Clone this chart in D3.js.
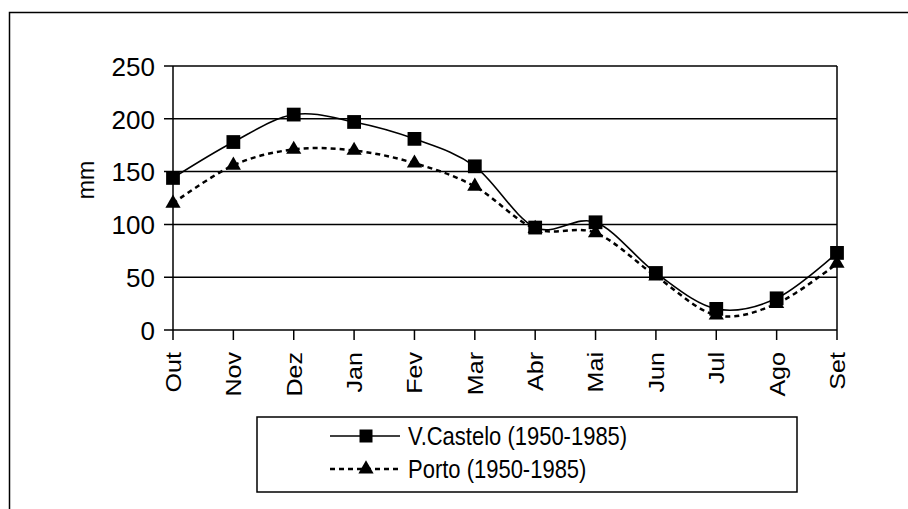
<!DOCTYPE html>
<html>
<head>
<meta charset="utf-8">
<script src="https://cdn.jsdelivr.net/npm/d3@7"></script>
<style>
  body { margin: 0; background: #fff; }
  text { font-family: "Liberation Sans", Arial, sans-serif; fill: #000; }
</style>
</head>
<body>
<script>
var months = ["Out", "Nov", "Dez", "Jan", "Fev", "Mar", "Abr", "Mai", "Jun", "Jul", "Ago", "Set"];
var vcastelo = [144, 178, 204, 197, 181, 155, 97, 102, 54, 20, 30, 73];
var porto = [120, 156, 171, 170, 158, 136, 96, 92, 51, 14, 25, 63];
var yTicks = [0, 50, 100, 150, 200, 250];
var seriesNames = ["V.Castelo (1950-1985)", "Porto (1950-1985)"];

var width = 908,
    height = 509;

var svg = d3.select("body").append("svg")
    .attr("width", width)
    .attr("height", height)

// outer chart frame (cropped on right and bottom)
svg.append("rect")
    .attr("x", 9.5).attr("y", 12.5)
    .attr("width", 1000).attr("height", 600)
    .attr("fill", "none").attr("stroke", "#000").attr("stroke-width", 1.5)

var x = d3.scalePoint().domain(months).range([173, 837]);
var y = d3.scaleLinear().domain([0, 250]).range([330, 66]);

/* gridlines with the small ticks left of the axis */
svg.selectAll("line.grid")
    .data(yTicks)
    .enter().append("line")
    .attr("x1", 164).attr("x2", 837)
    .attr("y1", function (d) { return y(d) })
    .attr("y2", function (d) { return y(d) })
    .attr("stroke", "#000").attr("stroke-width", 1.5)

// y axis and right border of plot area
svg.append("line").attr("x1", 173).attr("x2", 173).attr("y1", y(250)).attr("y2", y(0))
    .attr("stroke", "#000").attr("stroke-width", 1.5)
svg.append("line").attr("x1", 837).attr("x2", 837).attr("y1", y(250)).attr("y2", y(0))
    .attr("stroke", "#000").attr("stroke-width", 1.5)

svg.selectAll("text.ytick")
    .data(yTicks)
    .enter().append("text")
    .attr("x", 155)
    .attr("y", function (d) { return y(d) })
    .attr("dy", "0.38em")
    .attr("text-anchor", "end")
    .attr("font-size", 26)
    .text(function (d) { return d })

/* x ticks and rotated month labels */
svg.selectAll("line.xtick")
    .data(months)
    .enter().append("line")
    .attr("x1", function (d) { return x(d) })
    .attr("x2", function (d) { return x(d) })
    .attr("y1", y(0)).attr("y2", y(0) + 10)
    .attr("stroke", "#000").attr("stroke-width", 1.5)

svg.selectAll("text.xlab")
    .data(months)
    .enter().append("text")
    .attr("transform", function (d) { return "translate(" + x(d) + ",352) rotate(-90) scale(1.14,1)" })
    .attr("dy", "0.36em")
    .attr("text-anchor", "end")
    .attr("font-size", 22)
    .text(function (d) { return d })

svg.append("text")
    .attr("transform", "translate(86,180) rotate(-90)")
    .attr("dy", "0.36em")
    .attr("text-anchor", "middle")
    .attr("font-size", 23)
    .text("mm")

/* series lines */
var line = d3.line()
    .x(function (d, i) { return x(months[i]) })
    .y(function (d) { return y(d) })
    .curve(d3.curveCatmullRom.alpha(0));

svg.append("path")
    .attr("d", line(porto))
    .attr("fill", "none").attr("stroke", "#000")
    .attr("stroke-width", 2.5).attr("stroke-dasharray", "5,4")

svg.append("path")
    .attr("d", line(vcastelo))
    .attr("fill", "none").attr("stroke", "#000")
    .attr("stroke-width", 1.6)

var square = d3.symbol().type(d3.symbolSquare).size(190);
var triangle = d3.symbol().type(d3.symbolTriangle).size(100);

svg.selectAll("path.tri")
    .data(porto)
    .enter().append("path")
    .attr("d", triangle)
    .attr("transform", function (d, i) { return "translate(" + x(months[i]) + "," + y(d) + ")" })
    .attr("fill", "#000")

svg.selectAll("path.sq")
    .data(vcastelo)
    .enter().append("path")
    .attr("d", square)
    .attr("transform", function (d, i) { return "translate(" + x(months[i]) + "," + y(d) + ")" })
    .attr("fill", "#000")

/* legend */
var legend = svg.append("g")
legend.append("rect")
    .attr("x", 257).attr("y", 417)
    .attr("width", 540).attr("height", 75)
    .attr("fill", "#fff").attr("stroke", "#000").attr("stroke-width", 1.5)

var rows = [436, 469];
legend.append("line").attr("x1", 330).attr("x2", 400).attr("y1", rows[0]).attr("y2", rows[0])
    .attr("stroke", "#000").attr("stroke-width", 1.6)
legend.append("path").attr("d", d3.symbol().type(d3.symbolSquare).size(169))
    .attr("transform", "translate(366," + rows[0] + ")")
legend.append("line").attr("x1", 330).attr("x2", 400).attr("y1", rows[1]).attr("y2", rows[1])
    .attr("stroke", "#000").attr("stroke-width", 2.5).attr("stroke-dasharray", "5,4")
legend.append("path").attr("d", triangle)
    .attr("transform", "translate(366," + rows[1] + ")")

legend.selectAll("text.leg")
    .data(seriesNames)
    .enter().append("text")
    .attr("transform", function (d, i) { return "translate(408," + rows[i] + ") scale(1,1.15)" })
    .attr("dy", "0.36em")
    .attr("font-size", 22)
    .text(function (d) { return d })
</script>
</body>
</html>
